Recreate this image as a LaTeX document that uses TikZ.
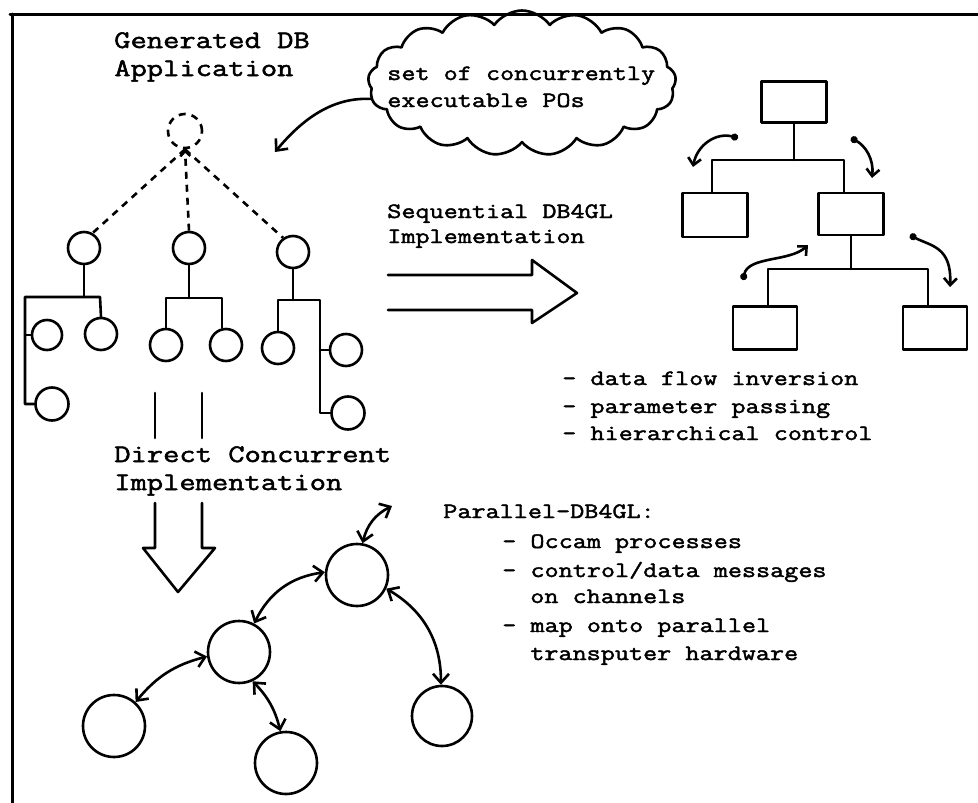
\documentclass[tikz,border=0pt]{standalone}
\usepackage{fontspec}
\newfontfamily\monofont{Latin Modern Mono}[FakeStretch=1.25,FakeBold=2]
\usetikzlibrary{arrows.meta,shapes.symbols}
\begin{document}
\begin{tikzpicture}[x=1pt,y=-1pt,line width=2.6pt,line cap=round,line join=round,
  circ/.style={circle,draw,minimum size=32pt,inner sep=0pt},
  bigcirc/.style={circle,draw,minimum size=62pt,inner sep=0pt},
  box/.style={rectangle,draw,minimum width=65pt,minimum height=43pt,inner sep=0pt},
  bigtxt/.style={font=\monofont\fontsize{25.3}{28}\selectfont,anchor=base west,inner sep=0pt},
  smalltxt/.style={font=\monofont\fontsize{21.9}{28}\selectfont,anchor=base west,inner sep=0pt},
  dotarrow/.style={{Circle[length=7pt]}-{Straight Barb[length=7pt,width=13pt]}},
  openhead/.style={-{Straight Barb[length=9pt,width=16pt]}},
  bidir/.style={{Straight Barb[length=9pt,width=16pt]}-{Straight Barb[length=9pt,width=16pt]}},
  dashline/.style={dash pattern=on 7pt off 6pt,line cap=butt}]
\useasboundingbox (0,0) rectangle (978,803);
% frame (top and left edges)
\draw[line width=3pt] (10,14) -- (978,14);
\draw[line width=3pt] (12,14) -- (12,803);

% titles
\node[bigtxt] (gen1) at (113,48) {Generated DB};
\node[bigtxt] (gen2) at (113,76) {Application};

% cloud
\node[cloud,draw,cloud puffs=17,cloud puff arc=110,cloud ignores aspect,
      minimum width=308pt,minimum height=145pt] (cloud) at (522,83) {};
\node[smalltxt] (cl1) at (386,80) {set of concurrently};
\node[smalltxt] (cl2) at (386,107) {executable POs};
\coordinate (cloudtip) at (275,152);
\draw[openhead] (cloud.186) .. controls (330,97) and (300,122) .. (cloudtip);

% dashed root and first level
\node[circ,dashline,minimum size=34pt] (t0) at (185,131) {};
\node[circ] (l1) at (84,248) {};
\node[circ] (m1) at (189,248) {};
\node[circ] (r1) at (293,252) {};
\draw[dashline] (t0.south) -- (l1.60);
\draw[dashline,-{Straight Barb[length=5pt,width=10pt]}] (m1.north) -- (t0.south);
\draw[dashline] (t0.south) -- (r1.125);

% left subtree
\node[circ,minimum size=30pt] (l4) at (47,335) {};
\node[circ] (l2) at (101,334) {};
\node[circ,minimum size=33pt] (l3) at (52,404) {};
\coordinate (lbL) at (25,297);
\coordinate (lbR) at (100,297);
\draw (l1.south) -- (l1.south |- lbL);
\draw (l3.west) -| (lbL) -- (lbR) -- (l2.north);
\draw (l4.west) -- (lbL |- l4.west);

% middle subtree
\node[circ] (m2) at (166,345) {};
\node[circ] (m3) at (226,345) {};
\coordinate (mbL) at (166,298);
\coordinate (mbR) at (222,298);
\draw (m1.south) -- (m1.south |- mbL);
\draw (m2.north) -- (mbL) -- (mbR) -- (mbR |- m3.north);

% right subtree
\node[circ] (r2) at (278,348) {};
\node[circ] (r3) at (346,350) {};
\node[circ,minimum size=33pt] (r4) at (348,413) {};
\coordinate (rbL) at (278,300);
\coordinate (rbR) at (320,300);
\draw (r1.south) -- (r1.south |- rbL);
\draw (r4.west) -| (rbR) -- (rbL) -- (r2.north);
\draw (r3.west) -- (rbR |- r3.west);

% sequential arrow
\node[smalltxt] (seq1) at (386,218) {Sequential DB4GL};
\node[smalltxt] (seq2) at (386,243) {Implementation};
\draw (388,275) -- (532,275) -- (532,260) -- (577,293) -- (532,323) -- (532,310) -- (388,310);

% rectangle tree
\node[box,minimum height=41pt] (b1) at (794,102) {};
\node[box,minimum height=44pt] (b2) at (715,215) {};
\node[box,minimum height=42pt] (b3) at (851,214) {};
\node[box,minimum width=64pt] (b4) at (765,328) {};
\node[box,minimum width=64pt] (b5) at (935,328) {};
\coordinate (k1L) at (712,160);
\coordinate (k1R) at (844,160);
\draw (b1.south) -- (b1.south |- k1L);
\draw (k1L |- b2.north) -- (k1L) -- (k1R) -- (k1R |- b3.north);
\coordinate (k2L) at (768,269);
\coordinate (k2R) at (928,269);
\draw (b3.south) -- (b3.south |- k2L);
\draw (k2L |- b4.north) -- (k2L) -- (k2R) -- (k2R |- b5.north);

% control flow arrows with dots
\coordinate (d1s) at (738,138); \coordinate (d1e) at (693,167);
\draw[dotarrow] (d1s) .. controls (716,132) and (697,145) .. (d1e);
\coordinate (d2s) at (851,138); \coordinate (d2e) at (872,178);
\draw[dotarrow] (d2s) .. controls (866,146) and (874,160) .. (d2e);
\coordinate (d3s) at (743,280); \coordinate (d3e) at (808,245);
\draw[dotarrow] (d3s) .. controls (748,256) and (790,262) .. (d3e);
\coordinate (d4s) at (910,235); \coordinate (d4e) at (950,287);
\draw[dotarrow] (d4s) .. controls (930,246) and (952,246) .. (d4e);

% list of sequential features
\node[smalltxt] (f1) at (561,385) {- data flow inversion};
\node[smalltxt] (f2) at (561,413) {- parameter passing};
\node[smalltxt] (f3) at (561,440) {- hierarchical control};

% direct concurrent arrow
\draw (155,393) -- (155,438);
\draw (202,393) -- (202,438);
\node[bigtxt] (dc1) at (113,462) {Direct Concurrent};
\node[bigtxt] (dc2) at (113,490) {Implementation};
\draw (155,503) -- (155,548) -- (143,548) -- (178,592) -- (215,548) -- (202,548) -- (202,503);

% process network
\node[bigcirc] (A) at (357,575) {};
\node[bigcirc] (B) at (239,652) {};
\node[bigcirc] (C) at (114,726) {};
\node[bigcirc] (D) at (286,763) {};
\node[bigcirc,minimum size=60pt] (E) at (442,716) {};
\coordinate (Afree) at (392,506);
\draw[bidir] (A.80) to[bend left=25] (Afree);
\draw[bidir] (A.175) to[bend right=28] (B.62);
\draw[bidir] (B.188) to[bend right=18] (C.48);
\draw[bidir] (B.295) to[bend left=15] (D.100);
\draw[bidir] (A.335) to[bend left=30] (E.92);

% parallel DB4GL text
\node[smalltxt] (p1) at (442,518) {Parallel-DB4GL:};
\node[smalltxt] (p2) at (501,548) {- Occam processes};
\node[smalltxt] (p3) at (501,577) {- control/data messages};
\node[smalltxt] (p4) at (529,603) {on channels};
\node[smalltxt] (p5) at (501,632) {- map onto parallel};
\node[smalltxt] (p6) at (529,660) {transputer hardware};
\end{tikzpicture}
\end{document}
